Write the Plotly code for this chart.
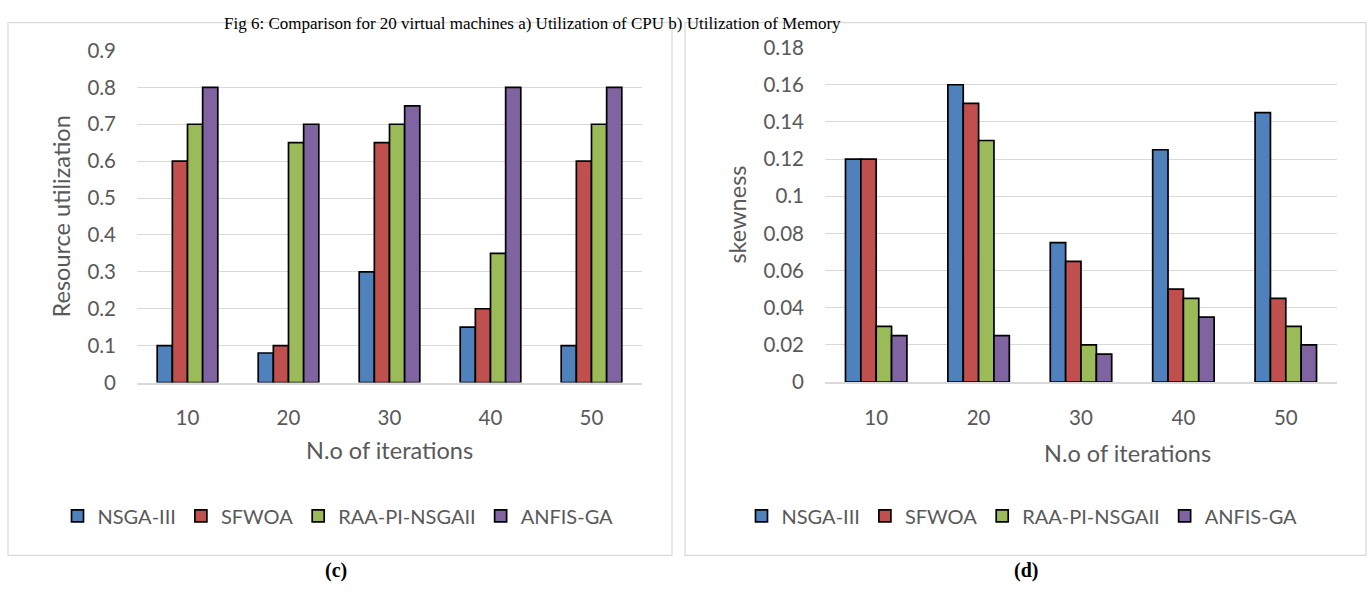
import plotly.graph_objects as go

W, H = 1371, 598

iterations = ["10", "20", "30", "40", "50"]
series_names = ["NSGA-III", "SFWOA", "RAA-PI-NSGAII", "ANFIS-GA"]
colors = ["#4F81BD", "#C0504D", "#9BBB59", "#8064A2"]

# (c) Resource utilization
util_nsga3 = [0.10, 0.08, 0.30, 0.15, 0.10]
util_sfwoa = [0.60, 0.10, 0.65, 0.20, 0.60]
util_raa = [0.70, 0.65, 0.70, 0.35, 0.70]
util_anfis = [0.80, 0.70, 0.75, 0.80, 0.80]

# (d) Skewness
skew_nsga3 = [0.120, 0.160, 0.075, 0.125, 0.145]
skew_sfwoa = [0.120, 0.150, 0.065, 0.050, 0.045]
skew_raa = [0.030, 0.130, 0.020, 0.045, 0.030]
skew_anfis = [0.025, 0.025, 0.015, 0.035, 0.020]

util_ticks = [0, 0.1, 0.2, 0.3, 0.4, 0.5, 0.6, 0.7, 0.8, 0.9]
util_ticktext = ["0", "0.1", "0.2", "0.3", "0.4", "0.5", "0.6", "0.7", "0.8", "0.9"]
skew_ticks = [0, 0.02, 0.04, 0.06, 0.08, 0.1, 0.12, 0.14, 0.16, 0.18]
skew_ticktext = ["0", "0.02", "0.04", "0.06", "0.08", "0.1", "0.12", "0.14", "0.16", "0.18"]

FONT = "Lato, 'Open Sans', sans-serif"
SERIF = "'Liberation Serif', 'Times New Roman', serif"
GRAY = "#595959"
GRID = "#d9d9d9"

fig = go.Figure()

left_data = [util_nsga3, util_sfwoa, util_raa, util_anfis]
right_data = [skew_nsga3, skew_sfwoa, skew_raa, skew_anfis]

for name, vals, col in zip(series_names, left_data, colors):
    fig.add_trace(go.Bar(
        x=iterations, y=vals, name=name, xaxis="x", yaxis="y",
        marker=dict(color=col, line=dict(color="#000000", width=1.7)),
        legend="legend",
    ))
for name, vals, col in zip(series_names, right_data, colors):
    fig.add_trace(go.Bar(
        x=iterations, y=vals, name=name, xaxis="x2", yaxis="y2",
        marker=dict(color=col, line=dict(color="#000000", width=1.7)),
        legend="legend2",
    ))

def px_x(v):
    return v / W

def px_y(v):
    return 1 - v / H

xcommon = dict(
    type="category", showgrid=False, zeroline=False, showline=True,
    linecolor=GRID, linewidth=2, ticks="",
    tickfont=dict(family=FONT, size=20.5, color=GRAY),
    ticklabelstandoff=16, fixedrange=True,
)
ycommon = dict(
    showgrid=True, gridcolor=GRID, gridwidth=1, zeroline=False,
    showline=False, ticks="",
    tickfont=dict(family=FONT, size=20.5, color=GRAY),
    ticklabelstandoff=20, fixedrange=True,
)

legend_common = dict(
    orientation="h", yanchor="middle", xanchor="center",
    font=dict(family=FONT, size=20, color=GRAY),
    bgcolor="rgba(0,0,0,0)",
)

TITLE_SIZE = 23.5
annotations = [
    dict(text="N.o of iterations", x=px_x(389), y=px_y(455), xref="paper", yref="paper",
         showarrow=False, font=dict(family=FONT, size=TITLE_SIZE, color=GRAY),
         xanchor="center", yanchor="middle"),
    dict(text="N.o of iterations", x=px_x(1127), y=px_y(458), xref="paper", yref="paper",
         showarrow=False, font=dict(family=FONT, size=TITLE_SIZE, color=GRAY),
         xanchor="center", yanchor="middle"),
    dict(text="Resource utilization", x=px_x(61), y=px_y(212), xref="paper", yref="paper",
         showarrow=False, textangle=-90, font=dict(family=FONT, size=TITLE_SIZE, color=GRAY),
         xanchor="center", yanchor="middle"),
    dict(text="skewness", x=px_x(737), y=px_y(210), xref="paper", yref="paper",
         showarrow=False, textangle=-90, font=dict(family=FONT, size=TITLE_SIZE, color=GRAY),
         xanchor="center", yanchor="middle"),
    dict(text="<b>(c)</b>", x=px_x(336), y=px_y(581), xref="paper", yref="paper",
         showarrow=False, font=dict(family=SERIF, size=20, color="#000000"),
         xanchor="center", yanchor="middle"),
    dict(text="<b>(d)</b>", x=px_x(1026), y=px_y(581), xref="paper", yref="paper",
         showarrow=False, font=dict(family=SERIF, size=20, color="#000000"),
         xanchor="center", yanchor="middle"),
    dict(text="Fig 6: Comparison for 20 virtual machines a) Utilization of CPU b) Utilization of Memory",
         x=px_x(223), y=1, xref="paper", yref="paper",
         showarrow=False, font=dict(family=SERIF, size=17, color="#000000"),
         xanchor="left", yanchor="top", borderpad=0),
]

shapes = [
    dict(type="rect", xref="paper", yref="paper", x0=px_x(8), x1=px_x(672),
         y0=px_y(565), y1=px_y(10), line=dict(color=GRID, width=1.2), layer="below"),
    dict(type="rect", xref="paper", yref="paper", x0=px_x(685), x1=px_x(1366),
         y0=px_y(565), y1=px_y(10), line=dict(color=GRID, width=1.2), layer="below"),
]

fig.update_layout(
    width=W, height=H,
    margin=dict(l=0, r=0, t=0, b=0),
    paper_bgcolor="white", plot_bgcolor="white",
    barmode="group", bargap=0.4, bargroupgap=0,
    xaxis=dict(domain=[px_x(137), px_x(642)], anchor="y", **xcommon),
    yaxis=dict(domain=[px_y(385), px_y(39)], anchor="x", range=[0, 0.9],
               tickvals=util_ticks, ticktext=util_ticktext, **ycommon),
    xaxis2=dict(domain=[px_x(825), px_x(1337)], anchor="y2", **xcommon),
    yaxis2=dict(domain=[px_y(384.5), px_y(36)], anchor="x2", range=[0, 0.18],
                tickvals=skew_ticks, ticktext=skew_ticktext, **ycommon),
    legend=dict(x=px_x(338), y=px_y(524), **legend_common),
    legend2=dict(x=px_x(1022), y=px_y(524), **legend_common),
    annotations=annotations,
    shapes=shapes,
    font=dict(family=FONT, color=GRAY),
)

fig.write_html(
    "out.html",
    config={"displayModeBar": False},
    post_script="document.body.style.margin='0';document.body.style.overflow='hidden';",
)
